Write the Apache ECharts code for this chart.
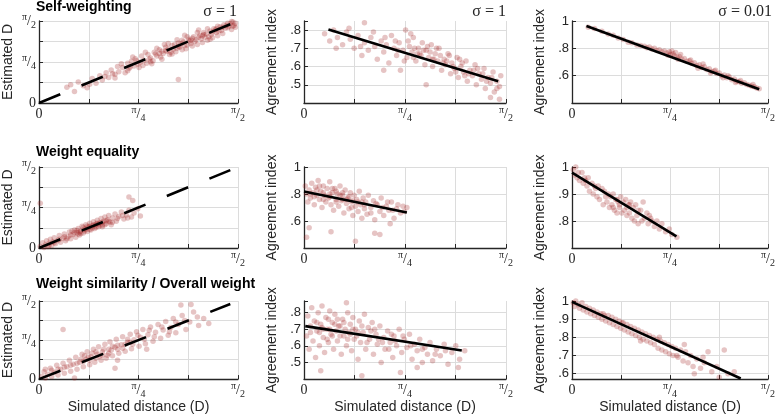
<!DOCTYPE html>
<html>
<head>
<meta charset="utf-8">
<script src="https://cdn.jsdelivr.net/npm/echarts@6/dist/echarts.min.js"></script>
<style>
  html, body { margin: 0; padding: 0; background: #fff; }
  #main { width: 778px; height: 415px; }
</style>
</head>
<body>
<div id="main"></div>
<script>
var HALF_PI = Math.PI / 2;

// tick labels (x axis of every panel, y axis of the left column)
var piTickValues = [0, Math.PI / 4, Math.PI / 2];
var piTickLabels = ["0", "π/4", "π/2"];

var rowTitles = ["Self-weighting", "Weight equality", "Weight similarity / Overall weight"];
var colSigma = ["σ = 1", "σ = 1", "σ = 0.01"];
var yNames = ["Estimated D", "Agreement index", "Agreement index"];
var xName = "Simulated distance (D)";

// y ranges and tick steps, panel by panel (row major)
var yRanges = [[0, HALF_PI], [0.4, 0.85], [0.4, 1], [0, HALF_PI], [0.4, 1], [0.7, 1], [0, HALF_PI], [0.4, 0.87], [0.57, 1]];
var yIntervals = [Math.PI / 8, 0.1, 0.2, Math.PI / 8, 0.2, 0.1, Math.PI / 8, 0.1, null];

// --- scatter data: [simulated distance, estimate / agreement] ---
var selfEst = [[0.22,0.30],[0.28,0.22],[0.31,0.40],[0.35,0.33],[0.38,0.29],[0.42,0.47],[0.45,0.38],[0.48,0.52],[0.50,0.44],[0.53,0.58],[0.55,0.49],[0.57,0.63],[0.60,0.55],[0.62,0.70],[0.63,0.60],[0.66,0.68],[0.68,0.58],[0.70,0.76],[0.71,0.66],[0.73,0.80],[0.75,0.71],[0.76,0.85],[0.78,0.74],[0.80,0.78],[0.81,0.90],[0.83,0.82],[0.85,0.76],[0.86,0.93],[0.88,0.86],[0.90,0.81],[0.91,0.97],[0.93,0.90],[0.95,1.02],[0.96,0.88],[0.98,0.95],[1.00,1.07],[1.01,0.99],[1.03,0.93],[1.05,1.10],[1.06,1.03],[1.08,0.98],[1.10,1.15],[1.11,1.07],[1.13,1.20],[1.15,1.10],[1.16,1.04],[1.18,1.22],[1.20,1.14],[1.22,1.27],[1.23,1.18],[1.25,1.12],[1.27,1.30],[1.28,1.23],[1.30,1.35],[1.31,1.26],[1.33,1.20],[1.35,1.38],[1.36,1.31],[1.38,1.42],[1.40,1.35],[1.41,1.29],[1.43,1.46],[1.44,1.39],[1.46,1.50],[1.47,1.43],[1.49,1.53],[1.50,1.47],[1.52,1.41],[1.53,1.55],[1.54,1.49],[1.10,0.45],[0.72,0.69],[0.77,0.81],[0.82,0.72],[0.87,0.84],[0.92,0.94],[0.97,0.99],[1.02,1.04],[1.04,0.97],[1.07,1.12],[1.09,1.05],[1.12,1.13],[1.14,1.17],[1.17,1.11],[1.19,1.19],[1.21,1.24],[1.24,1.21],[1.26,1.26],[1.29,1.29],[1.32,1.32],[1.34,1.27],[1.37,1.36],[1.39,1.40],[1.42,1.38],[1.45,1.45],[1.48,1.49],[1.51,1.52],[1.53,1.47],[1.55,1.53],[0.99,1.12],[1.15,1.30],[0.89,0.75],[1.26,1.40],[1.35,1.22],[0.60,0.48],[0.65,0.75],[0.70,0.62],[0.74,0.88],[0.79,0.68],[0.84,0.97],[0.88,0.79],[0.93,1.05],[0.97,0.84],[1.02,1.14],[1.05,0.94],[1.09,1.21],[1.13,1.02],[1.17,1.27],[1.21,1.09],[1.25,1.35],[1.29,1.16],[1.33,1.42],[1.37,1.25],[1.41,1.47],[1.45,1.33],[1.49,1.44],[1.52,1.56],[1.55,1.45],[0.95,0.95],[1.00,1.00],[1.10,1.08],[1.20,1.20],[1.30,1.31],[1.40,1.42],[0.25,0.35],[0.40,0.36],[0.52,0.51],[0.58,0.56]];
var selfAgree1 = [[0.16,0.78],[0.20,0.74],[0.23,0.80],[0.26,0.76],[0.30,0.72],[0.33,0.79],[0.36,0.75],[0.39,0.70],[0.42,0.77],[0.45,0.66],[0.47,0.73],[0.50,0.69],[0.52,0.76],[0.55,0.71],[0.57,0.64],[0.60,0.74],[0.62,0.68],[0.64,0.72],[0.66,0.62],[0.68,0.77],[0.70,0.70],[0.72,0.66],[0.74,0.73],[0.75,0.58],[0.77,0.69],[0.79,0.80],[0.80,0.65],[0.82,0.71],[0.84,0.68],[0.85,0.76],[0.87,0.63],[0.89,0.70],[0.90,0.67],[0.92,0.73],[0.94,0.61],[0.95,0.69],[0.97,0.65],[0.99,0.72],[1.00,0.60],[1.02,0.67],[1.04,0.63],[1.05,0.70],[1.07,0.58],[1.09,0.64],[1.10,0.61],[1.12,0.67],[1.14,0.56],[1.15,0.62],[1.17,0.59],[1.19,0.65],[1.20,0.54],[1.22,0.60],[1.24,0.57],[1.26,0.63],[1.27,0.52],[1.29,0.58],[1.31,0.55],[1.33,0.61],[1.34,0.50],[1.36,0.56],[1.38,0.53],[1.40,0.59],[1.41,0.48],[1.43,0.54],[1.45,0.51],[1.47,0.57],[1.48,0.46],[1.50,0.52],[1.52,0.49],[1.53,0.55],[1.45,0.43],[1.52,0.42],[0.47,0.84],[0.95,0.50],[0.62,0.58],[0.81,0.74],[0.86,0.70],[0.91,0.66],[0.96,0.71],[1.01,0.64],[1.06,0.66],[1.11,0.63],[1.16,0.60],[0.88,0.67],[0.98,0.68],[1.08,0.62],[1.18,0.57],[1.23,0.62],[1.28,0.56],[1.35,0.59],[1.42,0.52],[0.25,0.70],[0.35,0.81],[0.44,0.71],[0.54,0.79],[0.63,0.76],[0.71,0.74],[0.78,0.63],[0.83,0.78],[0.93,0.69],[1.03,0.70],[1.13,0.66],[1.21,0.64],[1.25,0.55],[1.32,0.58],[1.39,0.56],[1.46,0.54],[1.50,0.48],[0.73,0.69],[0.85,0.65],[1.00,0.64]];
var selfAgree001 = [[0.13,0.955],[0.18,0.945],[0.24,0.925],[0.29,0.905],[0.33,0.895],[0.37,0.875],[0.41,0.865],[0.45,0.845],[0.48,0.840],[0.52,0.825],[0.55,0.820],[0.58,0.815],[0.60,0.805],[0.62,0.810],[0.64,0.795],[0.66,0.800],[0.68,0.785],[0.70,0.790],[0.72,0.775],[0.74,0.780],[0.76,0.765],[0.78,0.775],[0.79,0.755],[0.81,0.760],[0.82,0.745],[0.84,0.735],[0.86,0.740],[0.88,0.720],[0.90,0.725],[0.92,0.705],[0.94,0.710],[0.96,0.690],[0.98,0.695],[1.00,0.675],[1.02,0.680],[1.04,0.660],[1.06,0.665],[1.08,0.645],[1.10,0.650],[1.12,0.630],[1.14,0.635],[1.16,0.615],[1.18,0.620],[1.20,0.600],[1.22,0.605],[1.24,0.585],[1.26,0.590],[1.28,0.570],[1.30,0.575],[1.32,0.560],[1.34,0.555],[1.36,0.545],[1.38,0.548],[1.40,0.535],[1.42,0.530],[1.44,0.522],[1.46,0.518],[1.48,0.510],[1.50,0.505],[0.80,0.780],[0.83,0.770],[0.77,0.750],[0.87,0.755],[0.95,0.715],[1.05,0.685],[1.15,0.640],[1.25,0.600],[1.35,0.565],[0.85,0.720],[1.01,0.655],[1.11,0.620],[1.21,0.585],[1.31,0.550],[1.45,0.535]];

var equalEst = [[0.01,0.03],[0.03,0.10],[0.04,0.01],[0.05,0.06],[0.06,0.14],[0.07,0.03],[0.08,0.09],[0.09,0.17],[0.10,0.05],[0.11,0.12],[0.12,0.20],[0.13,0.08],[0.15,0.15],[0.16,0.24],[0.17,0.11],[0.19,0.19],[0.20,0.27],[0.21,0.14],[0.23,0.22],[0.24,0.31],[0.25,0.18],[0.27,0.26],[0.28,0.35],[0.29,0.21],[0.30,0.30],[0.31,0.38],[0.32,0.25],[0.33,0.33],[0.34,0.42],[0.35,0.29],[0.36,0.37],[0.37,0.45],[0.38,0.32],[0.39,0.40],[0.40,0.48],[0.41,0.35],[0.42,0.43],[0.43,0.51],[0.44,0.38],[0.45,0.46],[0.46,0.54],[0.47,0.41],[0.48,0.49],[0.49,0.57],[0.50,0.44],[0.51,0.52],[0.52,0.60],[0.53,0.47],[0.54,0.55],[0.55,0.63],[0.56,0.50],[0.58,0.58],[0.60,0.66],[0.61,0.52],[0.63,0.61],[0.65,0.70],[0.67,0.56],[0.69,0.64],[0.71,0.73],[0.73,0.60],[0.75,0.68],[0.78,0.76],[0.80,0.62],[0.01,0.87],[0.71,0.99],[0.74,0.92],[0.35,0.40],[0.40,0.36],[0.43,0.45],[0.45,0.40],[0.48,0.44],[0.50,0.50],[0.38,0.42],[0.33,0.28],[0.46,0.48],[0.52,0.45],[0.42,0.39],[0.37,0.36],[0.30,0.34],[0.55,0.52],[0.57,0.45],[0.20,0.22],[0.25,0.25],[0.28,0.30],[0.32,0.31],[0.36,0.33],[0.40,0.42],[0.44,0.43],[0.47,0.47],[0.50,0.41],[0.53,0.53],[0.58,0.50],[0.62,0.57],[0.66,0.63],[0.70,0.58],[0.08,0.05],[0.12,0.10],[0.16,0.17],[0.22,0.18],[0.26,0.33],[0.31,0.27]];
var equalAgree1 = [[0.01,0.86],[0.02,0.80],[0.03,0.74],[0.04,0.83],[0.05,0.77],[0.06,0.88],[0.07,0.81],[0.08,0.72],[0.09,0.85],[0.10,0.79],[0.11,0.90],[0.12,0.76],[0.13,0.82],[0.14,0.70],[0.15,0.86],[0.16,0.79],[0.17,0.74],[0.18,0.84],[0.19,0.77],[0.20,0.89],[0.21,0.72],[0.22,0.81],[0.23,0.68],[0.24,0.84],[0.25,0.76],[0.26,0.80],[0.27,0.71],[0.28,0.86],[0.29,0.75],[0.30,0.79],[0.31,0.66],[0.32,0.83],[0.33,0.73],[0.34,0.77],[0.35,0.69],[0.36,0.81],[0.37,0.74],[0.38,0.64],[0.39,0.79],[0.40,0.71],[0.41,0.76],[0.42,0.67],[0.43,0.82],[0.44,0.72],[0.45,0.62],[0.46,0.77],[0.47,0.69],[0.48,0.74],[0.49,0.65],[0.50,0.79],[0.52,0.70],[0.54,0.75],[0.55,0.61],[0.57,0.72],[0.59,0.67],[0.60,0.77],[0.62,0.64],[0.64,0.71],[0.66,0.68],[0.68,0.74],[0.70,0.62],[0.72,0.69],[0.75,0.66],[0.77,0.71],[0.80,0.70],[0.02,0.48],[0.04,0.55],[0.21,0.52],[0.40,0.45],[0.55,0.51],[0.59,0.50],[0.67,0.58],[0.20,0.80],[0.25,0.82],[0.30,0.76],[0.35,0.78],[0.28,0.79],[0.15,0.81],[0.38,0.75],[0.45,0.74],[0.05,0.80],[0.10,0.83],[0.15,0.76],[0.20,0.78],[0.25,0.74],[0.30,0.81],[0.33,0.76],[0.37,0.70],[0.42,0.74],[0.47,0.72],[0.52,0.66],[0.56,0.73],[0.61,0.70],[0.65,0.74],[0.69,0.68],[0.73,0.72],[0.78,0.67],[0.08,0.78],[0.22,0.84],[0.12,0.86]];
var equalAgree001 = [[0.01,0.99],[0.02,0.97],[0.03,1.00],[0.04,0.96],[0.05,0.98],[0.06,0.95],[0.08,0.98],[0.09,0.94],[0.10,0.96],[0.12,0.93],[0.13,0.96],[0.14,0.91],[0.16,0.94],[0.17,0.90],[0.18,0.93],[0.20,0.89],[0.21,0.93],[0.22,0.88],[0.24,0.92],[0.25,0.86],[0.26,0.91],[0.28,0.87],[0.29,0.90],[0.30,0.85],[0.31,0.89],[0.32,0.86],[0.33,0.90],[0.34,0.84],[0.35,0.88],[0.36,0.83],[0.37,0.87],[0.38,0.85],[0.39,0.89],[0.40,0.83],[0.41,0.87],[0.42,0.84],[0.43,0.88],[0.44,0.82],[0.45,0.86],[0.46,0.83],[0.47,0.87],[0.48,0.81],[0.49,0.85],[0.50,0.80],[0.51,0.86],[0.52,0.82],[0.53,0.79],[0.55,0.84],[0.56,0.80],[0.57,0.87],[0.58,0.81],[0.60,0.83],[0.61,0.79],[0.62,0.82],[0.64,0.80],[0.66,0.78],[0.68,0.80],[0.70,0.77],[0.72,0.79],[0.75,0.76],[0.78,0.77],[0.80,0.75],[0.84,0.74],[0.36,0.88],[0.27,0.89],[0.19,0.92],[0.11,0.95],[0.44,0.85],[0.53,0.84],[0.63,0.81],[0.38,0.86],[0.46,0.86],[0.33,0.85]];

var simEst = [[0.02,0.05],[0.04,0.15],[0.05,0.02],[0.07,0.10],[0.09,0.22],[0.10,0.05],[0.12,0.14],[0.14,0.28],[0.15,0.08],[0.17,0.20],[0.19,0.32],[0.20,0.12],[0.22,0.25],[0.24,0.38],[0.25,0.16],[0.27,0.30],[0.29,0.44],[0.30,0.20],[0.32,0.34],[0.34,0.50],[0.35,0.25],[0.37,0.40],[0.38,0.55],[0.40,0.29],[0.41,0.45],[0.43,0.60],[0.44,0.34],[0.46,0.50],[0.47,0.65],[0.49,0.38],[0.50,0.55],[0.52,0.70],[0.53,0.42],[0.55,0.60],[0.56,0.75],[0.58,0.47],[0.60,0.64],[0.61,0.80],[0.63,0.52],[0.65,0.69],[0.66,0.85],[0.68,0.56],[0.70,0.74],[0.72,0.90],[0.73,0.61],[0.75,0.79],[0.77,0.95],[0.79,0.66],[0.80,0.84],[0.82,1.00],[0.84,0.71],[0.86,0.89],[0.88,1.05],[0.90,0.76],[0.92,0.94],[0.94,1.10],[0.96,0.82],[0.98,0.99],[1.00,1.16],[1.02,0.88],[1.04,1.04],[1.06,1.22],[1.08,0.93],[1.10,1.10],[1.13,1.28],[1.16,1.00],[1.19,1.15],[1.22,1.35],[1.26,1.08],[1.30,1.22],[1.34,1.12],[0.19,1.00],[1.12,1.49],[1.20,1.50],[0.28,0.02],[0.60,0.22],[0.45,0.42],[0.50,0.48],[0.55,0.52],[0.62,0.60],[0.40,0.38],[0.35,0.36],[0.58,0.66],[0.68,0.70],[0.72,0.74],[0.10,0.18],[0.15,0.20],[0.20,0.24],[0.25,0.28],[0.30,0.32],[0.33,0.40],[0.36,0.47],[0.39,0.44],[0.42,0.52],[0.45,0.55],[0.48,0.46],[0.51,0.60],[0.54,0.48],[0.57,0.58],[0.62,0.68],[0.66,0.62],[0.70,0.80],[0.74,0.70],[0.78,0.88],[0.83,0.80],[0.87,0.98],[0.91,0.85],[0.97,1.05],[1.03,0.95],[1.08,1.15],[1.15,1.18],[1.25,1.25],[0.05,0.20],[0.62,0.38],[0.85,0.60]];
var simAgree1 = [[0.02,0.66],[0.03,0.78],[0.04,0.58],[0.05,0.72],[0.06,0.83],[0.07,0.63],[0.08,0.75],[0.09,0.53],[0.10,0.69],[0.11,0.80],[0.12,0.60],[0.13,0.73],[0.14,0.84],[0.15,0.65],[0.16,0.56],[0.17,0.77],[0.18,0.70],[0.19,0.62],[0.20,0.81],[0.21,0.67],[0.22,0.74],[0.23,0.58],[0.24,0.79],[0.25,0.69],[0.26,0.63],[0.33,0.86],[0.28,0.72],[0.29,0.55],[0.30,0.76],[0.31,0.66],[0.32,0.70],[0.33,0.60],[0.34,0.80],[0.35,0.68],[0.36,0.73],[0.37,0.57],[0.38,0.77],[0.39,0.64],[0.40,0.70],[0.42,0.52],[0.43,0.75],[0.44,0.62],[0.46,0.68],[0.47,0.79],[0.48,0.58],[0.50,0.71],[0.51,0.64],[0.53,0.74],[0.54,0.55],[0.56,0.67],[0.57,0.61],[0.59,0.72],[0.60,0.50],[0.62,0.65],[0.63,0.58],[0.65,0.69],[0.67,0.62],[0.69,0.53],[0.70,0.66],[0.72,0.60],[0.74,0.70],[0.76,0.56],[0.78,0.64],[0.80,0.59],[0.82,0.67],[0.84,0.52],[0.86,0.61],[0.88,0.57],[0.90,0.64],[0.92,0.50],[0.94,0.59],[0.96,0.55],[0.98,0.62],[1.00,0.51],[1.03,0.58],[1.06,0.54],[1.09,0.61],[1.12,0.49],[1.15,0.56],[1.18,0.60],[1.21,0.52],[1.25,0.57],[0.13,0.45],[0.45,0.42],[0.75,0.44],[0.20,0.70],[0.28,0.66],[0.36,0.67],[0.52,0.69],[0.58,0.64],[0.68,0.67],[0.14,0.71],[0.24,0.73],[0.41,0.66],[0.88,0.47],[1.20,0.47],[0.05,0.68],[0.10,0.74],[0.15,0.70],[0.19,0.76],[0.22,0.66],[0.27,0.72],[0.31,0.74],[0.34,0.64],[0.38,0.70],[0.42,0.68],[0.45,0.72],[0.49,0.62],[0.55,0.70],[0.61,0.62],[0.66,0.58],[0.71,0.63],[0.77,0.66],[0.83,0.60],[0.92,0.58],[1.02,0.55],[1.10,0.57],[0.12,0.68],[0.26,0.76],[0.18,0.64]];
var simAgree001 = [[0.01,0.99],[0.02,0.97],[0.03,1.00],[0.05,0.98],[0.06,0.96],[0.08,0.99],[0.09,0.95],[0.11,0.97],[0.12,0.94],[0.14,0.96],[0.15,0.93],[0.17,0.95],[0.18,0.92],[0.20,0.94],[0.21,0.91],[0.23,0.93],[0.24,0.90],[0.26,0.92],[0.27,0.89],[0.29,0.92],[0.30,0.88],[0.32,0.91],[0.33,0.87],[0.35,0.90],[0.36,0.86],[0.38,0.89],[0.39,0.85],[0.41,0.88],[0.42,0.84],[0.44,0.87],[0.45,0.83],[0.47,0.86],[0.48,0.82],[0.50,0.85],[0.51,0.81],[0.53,0.84],[0.54,0.80],[0.56,0.83],[0.57,0.79],[0.59,0.82],[0.60,0.78],[0.62,0.81],[0.63,0.77],[0.65,0.80],[0.66,0.76],[0.68,0.79],[0.69,0.74],[0.71,0.78],[0.72,0.73],[0.74,0.77],[0.75,0.72],[0.77,0.76],[0.78,0.71],[0.80,0.75],[0.81,0.70],[0.83,0.74],[0.85,0.69],[0.87,0.73],[0.89,0.67],[0.91,0.72],[0.93,0.66],[0.95,0.70],[0.97,0.64],[1.00,0.68],[1.03,0.63],[1.06,0.66],[1.09,0.72],[1.12,0.61],[1.16,0.64],[1.22,0.73],[1.25,0.60],[1.30,0.61],[0.98,0.60],[0.90,0.76],[1.05,0.69],[0.70,0.80],[0.55,0.78],[0.25,0.93],[0.40,0.88],[0.84,0.70],[1.18,0.58]];

var panelData = [selfEst, selfAgree1, selfAgree001, equalEst, equalAgree1, equalAgree001, simEst, simAgree1, simAgree001];

// fitted lines (identity line in the left column)
var fitLines = [
  [[0, 0], [1.51, 1.51]],
  [[0.19, 0.803], [1.51, 0.519]],
  [[0.116, 0.963], [1.50, 0.501]],
  [[0, 0], [1.51, 1.51]],
  [[0, 0.819], [0.80, 0.663]],
  [[0, 0.979], [0.837, 0.743]],
  [[0, 0], [1.51, 1.51]],
  [[0.01, 0.719], [1.227, 0.572]],
  [[0, 0.995], [1.352, 0.573]]
];

var colLeft = [36, 304, 572], colWidth = [202, 202, 203];
var rowTop = [21, 167, 301], rowHeight = [82, 81, 80];
var ink = "#262626";
var serif = "Liberation Serif";
var sans = "Liberation Sans";

var piRich = {
  z: { fontFamily: serif, fontSize: 14, color: ink, lineHeight: 18 },
  n: { fontFamily: serif, fontSize: 10, color: ink, verticalAlign: "top", lineHeight: 18 },
  s: { fontFamily: serif, fontSize: 14, color: ink, lineHeight: 18 },
  d: { fontFamily: serif, fontSize: 10, color: ink, verticalAlign: "bottom", lineHeight: 18 }
};

function piLabel(v) {
  for (var i = 0; i < piTickValues.length; i++) {
    if (Math.abs(v - piTickValues[i]) < 1e-9) {
      var parts = piTickLabels[i].split("/");
      if (parts.length === 1) return "{z|" + parts[0] + "}";
      return "{n|" + parts[0] + "}{s|/}{d|" + parts[1] + "}";
    }
  }
  return "";
}

function agreeLabel(v) {
  if (Math.abs(v * 10 - Math.round(v * 10)) > 1e-6) return "";
  if (Math.abs(v - 1) < 1e-9) return "1";
  return v.toFixed(1).replace(/^0/, "");
}

var myChart = echarts.init(document.getElementById("main"));

var grids = [], xAxes = [], yAxes = [], series = [];
for (var r = 0; r < 3; r++) {
  for (var c = 0; c < 3; c++) {
    var i = r * 3 + c;
    grids.push({ left: colLeft[c], top: rowTop[r], width: colWidth[c], height: rowHeight[r] });
    xAxes.push({
      gridIndex: i, type: "value", min: 0, max: HALF_PI, interval: Math.PI / 8,
      name: r === 2 ? xName : "", nameLocation: "middle", nameGap: 20,
      nameTextStyle: { fontFamily: sans, fontSize: 14, color: ink },
      axisLine: { lineStyle: { color: ink, width: 1.3 } },
      axisTick: { inside: true, length: 4, lineStyle: { color: ink } },
      axisLabel: { margin: 2, formatter: piLabel, rich: piRich, showMaxLabel: true, showMinLabel: true },
      splitLine: { lineStyle: { color: "#dcdcdc", width: 1 } }
    });
    var y = {
      gridIndex: i, type: "value", min: yRanges[i][0], max: yRanges[i][1],
      name: yNames[c], nameLocation: "middle", nameGap: c === 0 ? 24 : 25,
      nameTextStyle: { fontFamily: sans, fontSize: 14, color: ink },
      axisLine: { lineStyle: { color: ink, width: 1.3 } },
      axisTick: { inside: true, length: 4, lineStyle: { color: ink } },
      splitLine: { lineStyle: { color: "#dcdcdc", width: 1 }, showMaxLine: c === 0 || yRanges[i][1] === 1 },
      axisLabel: c === 0
        ? { margin: 3, formatter: piLabel, rich: piRich, showMaxLabel: true, showMinLabel: true }
        : { margin: 3, formatter: agreeLabel, fontFamily: sans, fontSize: 13, color: ink, showMinLabel: false, showMaxLabel: true }
    };
    if (yIntervals[i] !== null) y.interval = yIntervals[i];
    else y.splitNumber = 4;
    yAxes.push(y);

    series.push({
      type: "scatter", xAxisIndex: i, yAxisIndex: i, data: panelData[i],
      symbolSize: 5.5, silent: true,
      itemStyle: { color: "#a01c1c", opacity: 0.26 }
    });
    series.push({
      type: "line", xAxisIndex: i, yAxisIndex: i, data: fitLines[i],
      showSymbol: false, silent: true, z: 5,
      lineStyle: { color: "#000", width: 2.6, type: c === 0 ? [23, 23] : "solid" }
    });
  }
}

var titles = [];
for (var k = 0; k < 3; k++) {
  titles.push({
    text: rowTitles[k], left: 36, top: [0, 145, 277][k], padding: 0,
    textStyle: { fontFamily: sans, fontWeight: "bold", fontSize: 14, color: "#000" }
  });
  titles.push({
    text: colSigma[k], right: [541, 272, 6][k], top: 4, padding: 0,
    textStyle: { fontFamily: serif, fontWeight: "normal", fontSize: 16, color: ink }
  });
}

var option = {
  animation: false,
  backgroundColor: "#fff",
  title: titles,
  grid: grids,
  xAxis: xAxes,
  yAxis: yAxes,
  series: series
};
myChart.setOption(option);
</script>
</body>
</html>
